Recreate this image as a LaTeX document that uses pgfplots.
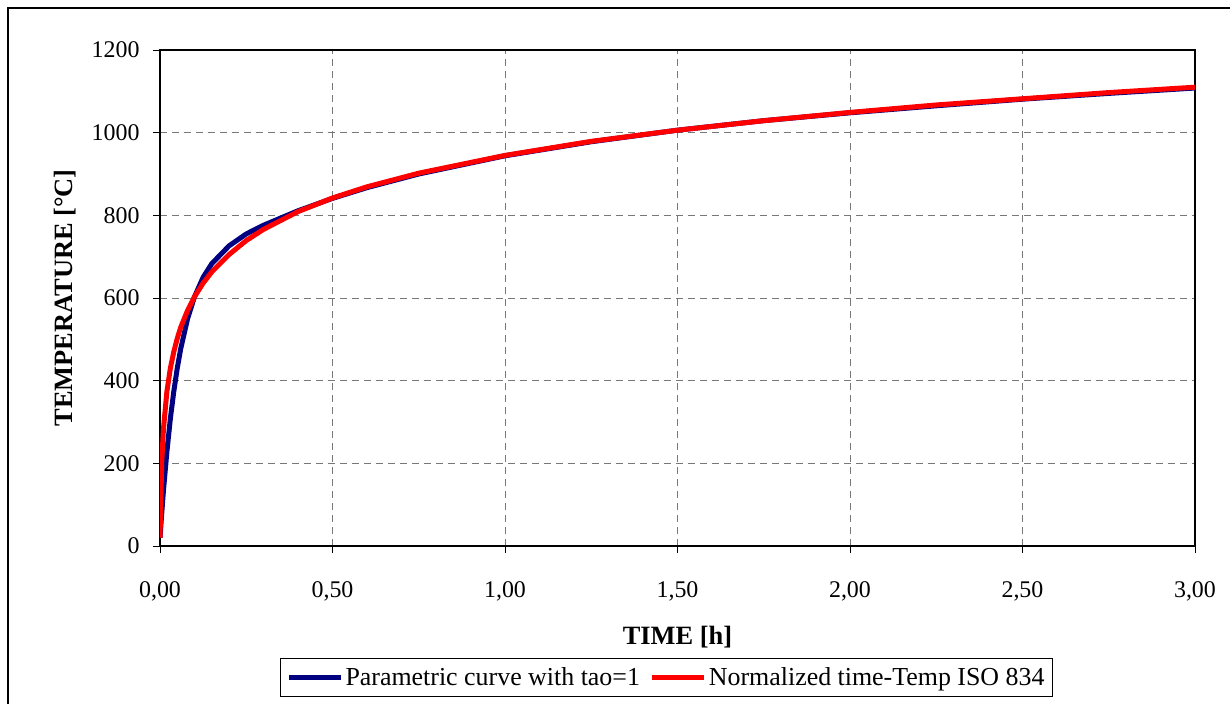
\documentclass[border=0pt]{standalone}
\usepackage{fontspec}
\setmainfont{Liberation Serif}
\usepackage{pgfplots}
\pgfplotsset{compat=1.18}
\definecolor{navyc}{RGB}{0,0,128}
\definecolor{gridc}{RGB}{120,120,120}
\newcommand{\lf}{\fontsize{24}{28}\selectfont}
\newcommand{\legf}{\fontsize{26}{30}\selectfont}
\begin{document}
\begin{tikzpicture}
\path[use as bounding box] (0,0) rectangle (1230bp,704bp);
\draw[line width=2bp] (8bp,-20bp) -- (8bp,696bp) -- (1250bp,696bp);
\begin{axis}[
  at={(160bp,158bp)}, anchor=south west,
  scale only axis, width=1035bp, height=496bp,
  xmin=0, xmax=3, ymin=0, ymax=1200,
  xtick={0,0.5,1,1.5,2,2.5,3},
  ytick={0,200,400,600,800,1000,1200},
  xtick pos=left, ytick pos=left,
  tick align=outside, major tick length=7bp,
  axis line style={line width=1.1bp, black},
  tick style={line width=0.9bp, black},
  grid=major,
  major grid style={dashed, dash pattern=on 7bp off 5bp, gridc, line width=0.9bp},
  font=\lf,
  xticklabel style={yshift=-25bp, /pgf/number format/fixed, /pgf/number format/fixed zerofill, /pgf/number format/precision=2, /pgf/number format/use comma, /pgf/number format/assume math mode=true},
  yticklabel style={xshift=-10bp, /pgf/number format/fixed, /pgf/number format/1000 sep={}, /pgf/number format/assume math mode=true},
  xlabel={\bfseries TIME [h]},
  ylabel={\bfseries TEMPERATURE [°C]},
  xlabel style={font=\fontsize{26.5}{30}\selectfont, yshift=-18bp},
  ylabel style={font=\fontsize{26.5}{30}\selectfont, yshift=9bp},
  legend columns=2,
  legend style={at={(axis description cs:0.4894,-0.2651)}, anchor=center,
    draw=black, line width=1bp, font=\legf,
    inner xsep=6bp, inner ysep=7bp,
    /tikz/every even column/.append style={column sep=8bp}},
  legend image code/.code={\draw[#1] (0bp,0bp) -- (52bp,0bp);},
]
\addplot[navyc, line width=5bp, line join=round] coordinates {
(0,20) (0.005,79) (0.01,134) (0.02,228) (0.03,308) (0.04,374) (0.05,430)
(0.06,477) (0.08,550) (0.1,603) (0.125,650) (0.15,683) (0.2,726)
(0.25,755) (0.3,776) (0.4,811) (0.5,841) (0.6,867) (0.75,900)
(1.0,944) (1.25,978) (1.5,1006) (1.75,1029) (2.0,1048) (2.25,1065)
(2.5,1081) (2.75,1095) (3.0,1108)
};
\addlegendentry{\legf Parametric curve with tao=1}
\addplot[red, line width=5bp, line join=round] coordinates {
(0,20) (0.005,203) (0.01,283) (0.02,374) (0.03,430) (0.04,470) (0.05,502)
(0.06,529) (0.08,570) (0.1,603) (0.125,636) (0.15,663) (0.2,705)
(0.25,739) (0.3,766) (0.4,809) (0.5,842) (0.6,869) (0.75,902)
(1.0,945) (1.25,979) (1.5,1006) (1.75,1029) (2.0,1049) (2.25,1067)
(2.5,1082) (2.75,1097) (3.0,1110)
};
\addlegendentry{\legf Normalized time-Temp ISO 834}
\end{axis}
\end{tikzpicture}
\end{document}
